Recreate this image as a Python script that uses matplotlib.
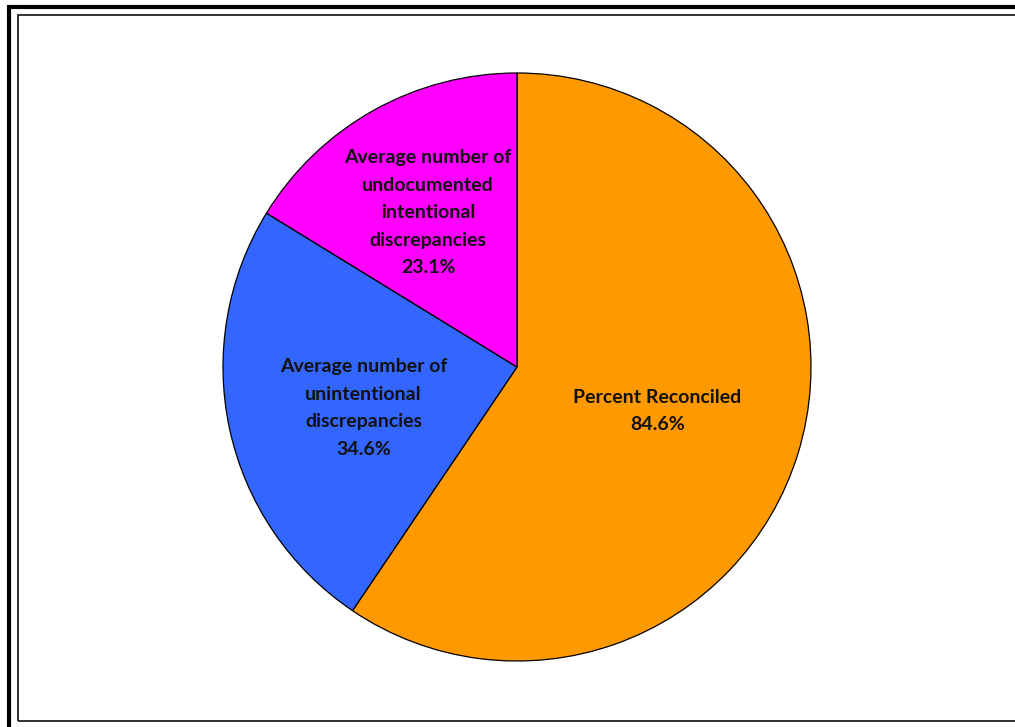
import matplotlib.pyplot as plt
import numpy as np
from matplotlib.patches import Rectangle

labels = ["Percent Reconciled",
          "Average number of\nunintentional\ndiscrepancies",
          "Average number of\nundocumented\nintentional\ndiscrepancies"]
values = [84.6, 34.6, 23.1]
colors = ["#FF9900", "#3366FF", "#FF00FF"]
# radial distance and angle nudge (deg) of each label
label_dist = [0.50, 0.54, 0.605]
label_turn = [-0.4, 2.8, 0.8]


def main():
    W, H = 1015, 727
    fig = plt.figure(figsize=(W / 100, H / 100), dpi=100)
    fig.patch.set_facecolor("white")

    # frame lines (outer thick, inner thin)
    fig.add_artist(Rectangle((9 / W, -0.05), 1.1, (H - 7) / H + 0.05, transform=fig.transFigure,
                             fill=False, edgecolor="black", linewidth=3.0))
    fig.add_artist(Rectangle((17.5 / W, (H - 720.5) / H), 1.1, (720.5 - 14.5) / H,
                             transform=fig.transFigure, fill=False, edgecolor="#222222", linewidth=1.3))

    cx, cy, r = 517, 367, 294
    half = 310
    ax = fig.add_axes([(cx - half) / W, (H - cy - half) / H, 2 * half / W, 2 * half / H])
    lim = half / r
    ax.axis("off")

    wedges, _ = ax.pie(values, colors=colors, startangle=90, counterclock=False,
                       wedgeprops=dict(edgecolor="black", linewidth=0.9))
    ax.set_xlim(-lim, lim)
    ax.set_ylim(-lim, lim)

    for w, lab, v, d, t in zip(wedges, labels, values, label_dist, label_turn):
        ang = np.deg2rad((w.theta1 + w.theta2) / 2 + t)
        ax.text(d * np.cos(ang), d * np.sin(ang), f"{lab}\n{v:.1f}%",
                ha="center", va="center", fontsize=14, fontweight="bold",
                family="Lato", linespacing=1.75, color="#111111")

    fig.savefig("out.png", dpi=100)


if __name__ == "__main__":
    main()
